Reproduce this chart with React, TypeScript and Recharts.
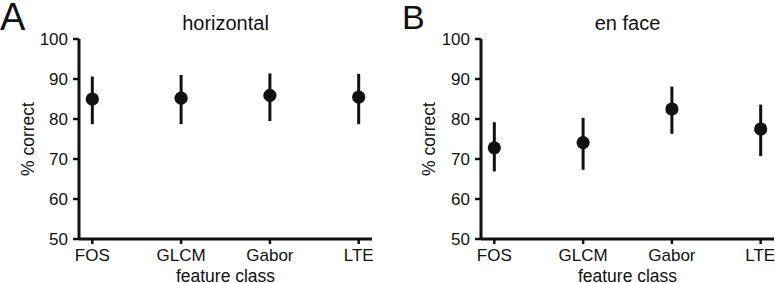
import React from 'react';
import { ScatterChart, Scatter, XAxis, YAxis, ErrorBar } from 'recharts';

// feature classes on the x axis
const categories = ['FOS', 'GLCM', 'Gabor', 'LTE'];

// % correct, horizontal scans: mean and error bar ends
const horizontalMean = [85.0, 85.2, 85.9, 85.5];
const horizontalLow = [78.7, 78.7, 79.5, 78.7];
const horizontalHigh = [90.6, 91.0, 91.4, 91.3];

// % correct, en face scans
const enFaceMean = [72.8, 74.1, 82.5, 77.5];
const enFaceLow = [66.9, 67.3, 76.3, 70.7];
const enFaceHigh = [79.2, 80.3, 88.1, 83.6];

const yTicks = [50, 60, 70, 80, 90, 100];

const FONT = '"Liberation Sans", Arial, Helvetica, sans-serif';
const INK = '#111';

const buildRows = (mean: number[], low: number[], high: number[]) =>
  categories.map((name, i) => ({
    x: i,
    name,
    mean: mean[i],
    err: [mean[i] - low[i], high[i] - mean[i]],
  }));

const Dot = (props: any) => <circle cx={props.cx} cy={props.cy} r={6.6} fill={INK} />;

interface PanelProps {
  rows: ReturnType<typeof buildRows>;
  width: number;
  rightMargin: number;
  axisWidth: number;
}

const Panel: React.FC<PanelProps> = ({ rows, width, rightMargin, axisWidth }) => (
  <ScatterChart
    width={width}
    height={283}
    margin={{ top: 39, right: rightMargin, bottom: 0, left: 0 }}
  >
    <XAxis
      type="number"
      dataKey="x"
      domain={[-0.15, 3.15]}
      ticks={[0, 1, 2, 3]}
      tickFormatter={(i: number) => categories[i]}
      height={44}
      axisLine={{ stroke: INK, strokeWidth: 3 }}
      tickLine={{ stroke: INK, strokeWidth: 2.5 }}
      tickSize={5}
      tickMargin={5}
      tick={{ fill: INK, fontSize: 17, fontFamily: FONT }}
      label={{ value: 'feature class', position: 'insideBottom', offset: 1.5, fill: INK, fontSize: 17.5, fontFamily: FONT }}
    />
    <YAxis
      type="number"
      dataKey="mean"
      domain={[50, 100]}
      ticks={yTicks}
      width={axisWidth}
      axisLine={{ stroke: INK, strokeWidth: 3 }}
      tickLine={{ stroke: INK, strokeWidth: 2.5 }}
      tickSize={6}
      tickMargin={5}
      tick={{ fill: INK, fontSize: 17, fontFamily: FONT }}
      label={{ value: '% correct', angle: -90, position: 'center', dx: -12, fill: INK, fontSize: 17.5, fontFamily: FONT }}
    />
    <Scatter data={rows} dataKey="mean" shape={Dot} isAnimationActive={false}>
      <ErrorBar dataKey="err" direction="y" width={0} stroke={INK} strokeWidth={3} isAnimationActive={false} />
    </Scatter>
  </ScatterChart>
);

export default function App() {
  const horizontal = buildRows(horizontalMean, horizontalLow, horizontalHigh);
  const enFace = buildRows(enFaceMean, enFaceLow, enFaceHigh);

  return (
    <div style={{ position: 'absolute', left: 0, top: 0, width: 775, height: 283, background: '#fff', overflow: 'hidden' }}>
      <div style={{ position: 'absolute', left: 0, top: 0 }}>
        <Panel rows={horizontal} width={390} rightMargin={18} axisWidth={79} />
      </div>
      <div style={{ position: 'absolute', left: 401, top: 0 }}>
        <Panel rows={enFace} width={374} rightMargin={1} axisWidth={80} />
      </div>
      <svg width={775} height={283} style={{ position: 'absolute', left: 0, top: 0, pointerEvents: 'none' }}>
        <g fontFamily={FONT} fill={INK}>
          <text x={0} y={29.5} fontSize={38}>A</text>
          <text x={402} y={28.5} fontSize={34}>B</text>
          <text x={225.5} y={30} fontSize={20} textAnchor="middle">horizontal</text>
          <text x={627.5} y={30} fontSize={20} textAnchor="middle">en face</text>
        </g>
      </svg>
    </div>
  );
}
